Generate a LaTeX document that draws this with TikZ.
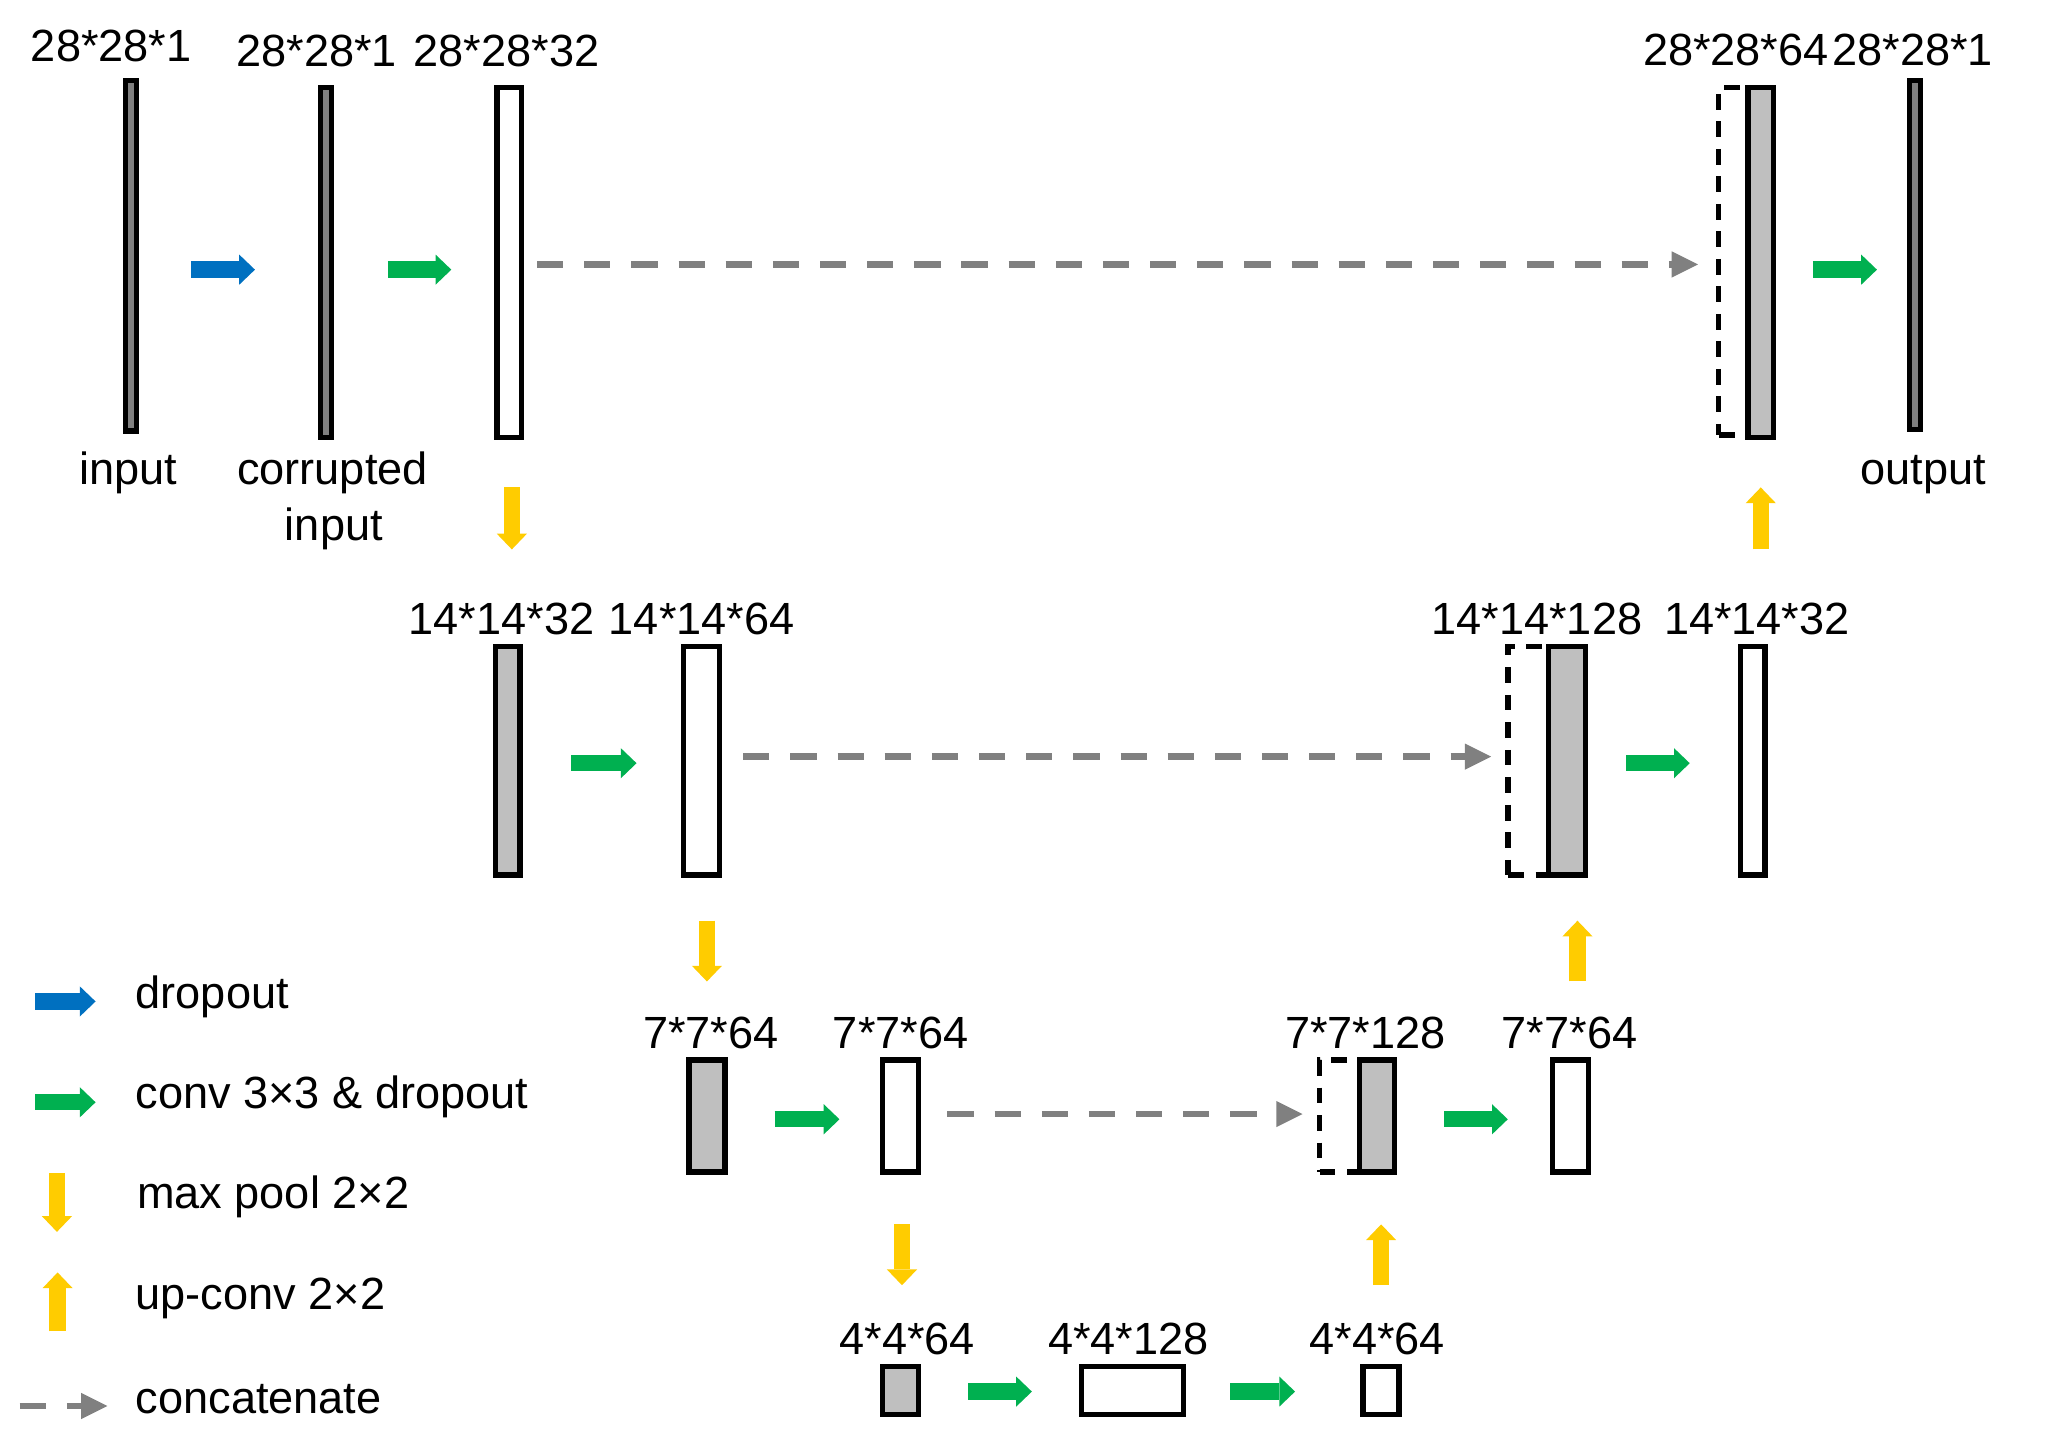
\documentclass[tikz,border=0pt]{standalone}
\usepackage{fontspec}
\setmainfont{Liberation Sans}
\usetikzlibrary{calc,arrows.meta}

\definecolor{dropblue}{HTML}{0070C0}
\definecolor{convgreen}{HTML}{00B050}
\definecolor{poolyellow}{HTML}{FFCC00}
\definecolor{catgray}{HTML}{808080}
\definecolor{darkfill}{HTML}{808080}
\definecolor{lightfill}{HTML}{BFBFBF}

\tikzset{
  bar/.style={draw, rectangle, line width=1.15pt, inner sep=0pt, outer sep=0pt},
  darkbar/.style={bar, fill=darkfill, minimum width=0.85mm},
  greybar/.style={bar, fill=lightfill},
  whitebar/.style={bar, fill=white},
  catbox/.style={draw, rectangle, line width=1.15pt, dash pattern=on 1.2mm off 0.9mm, inner sep=0pt, outer sep=0pt},
  blockarrow/.style={line width=1.25mm, -{Triangle[length=1.2mm,width=2.3mm,line width=0pt]}},
  drop/.style={blockarrow, dropblue},
  conv/.style={blockarrow, convgreen},
  pool/.style={blockarrow, poolyellow},
  concat/.style={catgray, line width=0.5mm, dash pattern=on 2mm off 1.6mm, -{Triangle[length=2mm,width=2mm,line width=0pt]}},
  lbl/.style={anchor=base, inner sep=0pt},
  key/.style={anchor=base west, inner sep=0pt}
}

\begin{document}
\begin{tikzpicture}[x=0.01cm, y=-0.01cm, font=\fontsize{9.8}{12.2}\selectfont]
\path[use as bounding box, fill=white] (0,0) rectangle (1569,1110);

% 28*28 level
\draw node [darkbar, minimum height=26.75mm] (in) at (100,195.5) {};
\draw node [darkbar, minimum height=26.75mm] (cin) at (249,200.5) {};
\draw node [whitebar, minimum width=1.85mm, minimum height=26.75mm] (c1) at (389,200.5) {};
\draw node [catbox, minimum width=2.225mm, minimum height=26.55mm] (cat1d) at (1324.1,199.5) {};
\draw node [greybar, minimum width=1.95mm, minimum height=26.75mm] (cat1) at (1345,200.5) {};
\draw node [darkbar, minimum height=26.65mm] (out) at (1463,195) {};

\draw node [lbl] (l-in) at (85,47) {28*28*1};
\draw node [lbl] (l-cin) at (242,51) {28*28*1};
\draw node [lbl] (l-c1) at (387,51) {28*28*32};
\draw node [lbl] (l-cat1) at (1326,50) {28*28*64};
\draw node [lbl] (l-out) at (1461,50) {28*28*1};
\draw node [lbl] (t-in) at (98,370) {input};
\draw node [lbl] (t-cin) at (254,370) {corrupted};
\draw node [lbl] (t-cin2) at (255,413) {input};
\draw node [lbl] (t-out) at (1469,370) {output};

% 14*14 level
\draw node [greybar, minimum width=1.85mm, minimum height=17.45mm] (p1) at (388,581) {};
\draw node [whitebar, minimum width=2.75mm, minimum height=17.45mm] (c2) at (536,581) {};
\draw node [catbox, minimum width=3.075mm, minimum height=17.45mm] (cat2d) at (1167.4,581) {};
\draw node [greybar, minimum width=2.85mm, minimum height=17.45mm] (cat2) at (1197,581) {};
\draw node [whitebar, minimum width=1.85mm, minimum height=17.45mm] (d2) at (1339,581) {};

\draw node [lbl] (l-p1) at (383,485) {14*14*32};
\draw node [lbl] (l-c2) at (536,485) {14*14*64};
\draw node [lbl] (l-cat2) at (1174,485) {14*14*128};
\draw node [lbl] (l-d2) at (1342,485) {14*14*32};

% 7*7 level
\draw node [greybar, minimum width=2.75mm, minimum height=8.55mm] (p2) at (540,852.5) {};
\draw node [whitebar, minimum width=2.75mm, minimum height=8.55mm] (c3) at (688,852.5) {};
\draw node [catbox, minimum width=3.075mm, minimum height=8.55mm] (cat3d) at (1023.4,852.5) {};
\draw node [greybar, minimum width=2.65mm, minimum height=8.55mm] (cat3) at (1052,852.5) {};
\draw node [whitebar, minimum width=2.75mm, minimum height=8.55mm] (d3) at (1199.5,852.5) {};

\draw node [lbl] (l-p2) at (543,801) {7*7*64};
\draw node [lbl] (l-c3) at (688,801) {7*7*64};
\draw node [lbl] (l-cat3) at (1043,801) {7*7*128};
\draw node [lbl] (l-d3) at (1199,801) {7*7*64};

% 4*4 level
\draw node [greybar, minimum width=2.75mm, minimum height=3.65mm] (p3) at (688,1062) {};
\draw node [whitebar, minimum width=7.75mm, minimum height=3.65mm] (c4) at (865,1062) {};
\draw node [whitebar, minimum width=2.75mm, minimum height=3.65mm] (u4) at (1055,1062) {};

\draw node [lbl] (l-p3) at (693,1035) {4*4*64};
\draw node [lbl] (l-c4) at (862,1035) {4*4*128};
\draw node [lbl] (l-u4) at (1052,1035) {4*4*64};

% arrows
\draw[drop] ($ (in.east)+(42,10.5) $) -- ($ (cin.west)+(-50,5.5) $);
\draw[conv] ($ (cin.east)+(43,5.5) $) -- ($ (c1.west)+(-35,5.5) $);
\draw[concat] ($ (c1.east)+(12,1.5) $) -- ($ (cat1d.west)+(-16,2.5) $);
\draw[conv] ($ (cat1.east)+(30,5.5) $) -- ($ (out.west)+(-25,11) $);
\draw[pool] ($ (c1.south)+(2,38) $) -- ($ (p1.north)+(3,-74) $);
\draw[pool] ($ (d2.north)+(6,-74) $) -- ($ (cat1.south)+(0,38) $);

\draw[conv] ($ (p1.east)+(39,2) $) -- ($ (c2.west)+(-36,2) $);
\draw[concat] ($ (c2.east)+(18,-3) $) -- ($ (cat2d.west)+(-13,-3) $);
\draw[conv] ($ (cat2.east)+(31,2) $) -- ($ (d2.west)+(-39,2) $);
\draw[pool] ($ (c2.south)+(4,35) $) -- ($ (p2.north)+(0,-60) $);
\draw[pool] ($ (d3.north)+(5.5,-60) $) -- ($ (cat2.south)+(8,35) $);

\draw[conv] ($ (p2.east)+(38,2.5) $) -- ($ (c3.west)+(-33,2.5) $);
\draw[concat] ($ (c3.east)+(22,-1.5) $) -- ($ (cat3d.west)+(-13,-1.5) $);
\draw[conv] ($ (cat3.east)+(38,2.5) $) -- ($ (d3.west)+(-34,2.5) $);
\draw[pool] ($ (c3.south)+(1,40) $) -- ($ (p3.north)+(1,-62) $);
\draw[pool] ($ (u4.north)+(0,-62) $) -- ($ (cat3.south)+(3,40) $);

\draw[conv] ($ (p3.east)+(38,1) $) -- ($ (c4.west)+(-38,1) $);
\draw[conv] ($ (c4.east)+(36,1) $) -- ($ (u4.west)+(-52,1) $);

% legend
\coordinate (k1a) at (27,765); \coordinate (k1b) at (73,765);
\coordinate (k2a) at (27,842); \coordinate (k2b) at (73,842);
\coordinate (k3a) at (43.5,896); \coordinate (k3b) at (43.5,941);
\coordinate (k4a) at (44,1017); \coordinate (k4b) at (44,972);
\coordinate (k5a) at (15,1074); \coordinate (k5b) at (82,1074);
\draw[drop] (k1a) -- (k1b);
\draw[conv] (k2a) -- (k2b);
\draw[pool] (k3a) -- (k3b);
\draw[pool] (k4a) -- (k4b);
\draw[concat] (k5a) -- (k5b);
\draw node [key] (k1) at (103,770) {dropout};
\draw node [key] (k2) at (103,847) {conv 3×3 \& dropout};
\draw node [key] (k3) at (104,923) {max pool 2×2};
\draw node [key] (k4) at (103,1000) {up-conv 2×2};
\draw node [key] (k5) at (103,1080) {concatenate};

\end{tikzpicture}
\end{document}
